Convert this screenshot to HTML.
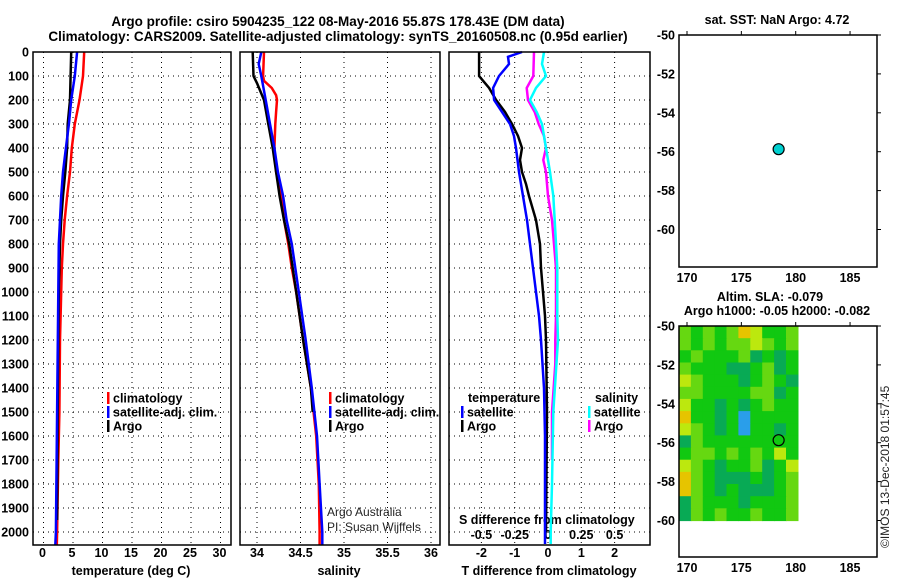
<!DOCTYPE html>
<html><head><meta charset="utf-8">
<style>
html,body{margin:0;padding:0;background:#fff;}
svg{display:block;font-family:"Liberation Sans",Arial,sans-serif;}
.b{font-weight:bold;font-size:12.5px;fill:#000;}
.t{font-weight:bold;font-size:13.5px;fill:#000;}
.n{font-size:12px;fill:#222;}
</style></head>
<body>
<svg id="c" width="900" height="580" viewBox="0 0 900 580" xmlns="http://www.w3.org/2000/svg">
<text class="t" x="338" y="26" text-anchor="middle">Argo profile: csiro 5904235_122 08-May-2016 55.87S 178.43E (DM data)</text>
<text class="t" x="338" y="41" text-anchor="middle">Climatology: CARS2009. Satellite-adjusted climatology: synTS_20160508.nc (0.95d earlier)</text>
<text class="b" x="131" y="575" text-anchor="middle">temperature (deg C)</text>
<text class="b" x="339" y="575" text-anchor="middle">salinity</text>
<text class="b" x="549" y="575" text-anchor="middle">T difference from climatology</text>
<text class="b" x="459" y="524">S difference from climatology</text>
<text class="n" x="327" y="516">Argo Australia</text>
<text class="n" x="327" y="531">PI: Susan Wijffels</text>
<text class="b" x="777" y="24" text-anchor="middle">sat. SST: NaN Argo: 4.72</text>
<text class="b" x="770" y="301" text-anchor="middle">Altim. SLA: -0.079</text>
<text class="b" x="777" y="315" text-anchor="middle">Argo h1000: -0.05 h2000: -0.082</text>
<text class="n" x="0" y="0" transform="translate(889,548) rotate(-90)">©IMOS 13-Dec-2018 01:57:45</text>
</svg>
<script>
// ---- data ----
const depthTicks=[0,100,200,300,400,500,600,700,800,900,1000,1100,1200,1300,1400,1500,1600,1700,1800,1900,2000];
const tempTicks=[0,5,10,15,20,25,30];
const salTicks=[34,34.5,35,35.5,36];
const salTickLabels=["34","34.5","35","35.5","36"];
const tdTicks=[-2,-1,0,1,2];
const sdTicks=[-0.5,-0.25,0,0.25,0.5];
const sdTickLabels=["-0.5","-0.25","0","0.25","0.5"];

const tClimP=[0,100,200,300,400,500,600,700,800,900,1000,1200,1500,1700,2000,2055];
const tClim=[6.9,6.7,6.1,5.3,4.8,4.5,4.0,3.6,3.3,3.1,3.0,2.8,2.7,2.5,2.3,2.25];
const tSatP=[0,100,200,300,400,500,600,700,800,1000,1500,2000,2055];
const tSat=[5.7,5.3,4.7,4.3,3.8,3.3,3.0,2.8,2.6,2.5,2.3,2.1,2.0];
const tArgoP=[0,100,200,300,400,500,600,700,800,1000,1500,1950];
const tArgo=[4.7,4.6,4.5,4.1,4.0,3.7,3.3,3.0,2.8,2.6,2.4,2.3];

const sClimP=[0,100,120,150,180,200,250,300,400,500,600,700,800,900,1000,1200,1400,1600,1800,2000,2055];
const sClim=[34.08,34.07,34.08,34.17,34.22,34.23,34.22,34.21,34.20,34.22,34.28,34.31,34.36,34.40,34.45,34.53,34.62,34.68,34.71,34.72,34.72];
const sSatP=[0,50,100,200,300,400,500,600,700,800,1000,1200,1400,1600,1800,2000,2055];
const sSat=[34.05,34.02,34.05,34.10,34.15,34.20,34.24,34.30,34.34,34.40,34.48,34.56,34.63,34.69,34.72,34.75,34.75];
const sArgoP=[0,100,130,200,300,400,500,600,700,800,1000,1200,1400,1500];
const sArgo=[33.95,33.96,34.0,34.08,34.13,34.18,34.22,34.26,34.31,34.37,34.45,34.53,34.62,34.64];

const dTArgoP=[0,100,150,200,250,300,350,400,450,500,550,600,700,800,900,1000,1100,1200,1500,2000];
const dTArgo=[-2.07,-2.07,-1.77,-1.56,-1.29,-1.08,-0.9,-0.78,-0.84,-0.78,-0.66,-0.57,-0.36,-0.24,-0.21,-0.15,-0.09,-0.06,-0.03,-0.06];
const dTSatP=[0,20,50,100,150,200,250,300,350,400,500,600,700,800,900,1000,1100,1200,1400,1600,2000,2050];
const dTSat=[-0.78,-1.2,-1.17,-1.47,-1.65,-1.62,-1.38,-1.14,-1.02,-0.96,-0.87,-0.75,-0.63,-0.54,-0.45,-0.36,-0.27,-0.21,-0.12,-0.09,-0.09,-0.09];
const dSSatP=[0,50,100,150,200,250,300,400,500,600,700,800,900,1000,1100,1200,1500,1800,2000,2050];
const dSSat=[-0.03,-0.045,-0.015,-0.09,-0.135,-0.085,-0.045,-0.015,0.015,0.04,0.05,0.06,0.07,0.07,0.07,0.075,0.04,0.03,0.02,0.02];
const dSArgoP=[0,100,150,200,250,300,350,400,450,500,600,700,800,900,1000,1100,1200,1300,1500,1700];
const dSArgo=[-0.105,-0.11,-0.16,-0.15,-0.1,-0.07,-0.03,-0.015,-0.035,-0.015,0.0,0.03,0.045,0.06,0.06,0.06,0.055,0.055,0.03,0.03];

const mapXTicks=[170,175,180,185];
const mapYTicks=[-50,-52,-54,-56,-58,-60];
const argoLon=[178.43];
const argoLat=[-55.87];
const slaRows=["lglgloyggl","lglgllylgl","glgggltgtg","lgggttgltg","ylgggtglgt","llgggglltg","yggtgtglgg","oggtgbgggg","ylgtgbggtg","tlgggggggg","gllglglgyg","ylgtggltgy","olgtttgtgl","olgtgtttgl","tlgggtgggl","tlglgglggl"];

// ---- drawing ----
const svg=document.getElementById('c');
const NS='http://www.w3.org/2000/svg';
function el(tag,attrs,parent){const e=document.createElementNS(NS,tag);for(const k in attrs)e.setAttribute(k,attrs[k]);(parent||svg).appendChild(e);return e;}
const yD=p=>52+p*0.24;
const BOT=545;

function panel(x0,x1,name){
  const g=el('g',{});
  
  
  return g;
}
function hgrid(g,x0,x1){
  depthTicks.forEach(p=>{ if(p>0){const l=el('line',{x1:x0,x2:x1,y1:yD(p),y2:yD(p),stroke:'#000','stroke-width':1,'stroke-dasharray':'1,4'},g);
  
  }});
}
function vgrid(g,xs){
  xs.forEach(x=>{const l=el('line',{x1:x,x2:x,y1:52,y2:BOT,stroke:'#000','stroke-width':1,'stroke-dasharray':'1,4'},g);
  
  });
}
function frame(g,x0,x1,y0,y1){const r=el('rect',{x:x0,y:y0,width:x1-x0,height:y1-y0,fill:'none',stroke:'#000','stroke-width':1.5},g);
  
  }
function line(g,ps,vs,fx,color,name){
  const pts=ps.map((p,i)=>fx(vs[i]).toFixed(1)+','+yD(p).toFixed(1)).join(' ');
  const l=el('polyline',{points:pts,fill:'none',stroke:color,'stroke-width':2.5,'stroke-linejoin':'miter'},g);
  
  
}
function txt(g,x,y,s,cls,anchor,name){const t=el('text',{x:x,y:y,class:cls,'text-anchor':anchor||'start'},g);t.textContent=s;
  
  
  return t;}
function legend(g,x,y,color,label,name){
  const r=el('rect',{x:x,y:y-6,width:2.5,height:12,fill:color},g);
  
  
  txt(g,x+6,y+4.5,label,'b','start',name);
}

// Panel 1: temperature
const xT=v=>43.5+v*5.9;
const p1=panel(33,231,'temperature-panel');
hgrid(p1,33,231); vgrid(p1,tempTicks.map(xT));
depthTicks.forEach(p=>txt(p1,29,yD(p)+4.5,String(p),'b','end','depth-tick-label'));
tempTicks.forEach(v=>txt(p1,xT(v)-1,557,String(v),'b','middle','temperature-tick-label'));
line(p1,tClimP,tClim,xT,'#ff0000','temperature-climatology-line');
line(p1,tArgoP,tArgo,xT,'#000000','temperature-argo-line');
line(p1,tSatP,tSat,xT,'#0000ff','temperature-satellite-line');
frame(p1,33,231,52,BOT);
legend(p1,107,398,'#ff0000','climatology','legend-climatology');
legend(p1,107,412,'#0000ff','satellite-adj. clim.','legend-satellite-adj');
legend(p1,107,426,'#000000','Argo','legend-argo');

// Panel 2: salinity
const xS=v=>257+(v-34)*87;
const p2=panel(240,440,'salinity-panel');
hgrid(p2,240,440); vgrid(p2,salTicks.map(xS));
salTicks.forEach((v,i)=>txt(p2,xS(v),557,salTickLabels[i],'b','middle','salinity-tick-label'));
line(p2,sClimP,sClim,xS,'#ff0000','salinity-climatology-line');
line(p2,sArgoP,sArgo,xS,'#000000','salinity-argo-line');
line(p2,sSatP,sSat,xS,'#0000ff','salinity-satellite-line');
frame(p2,240,440,52,BOT);
legend(p2,329,398,'#ff0000','climatology','legend-sal-climatology');
legend(p2,329,412,'#0000ff','satellite-adj. clim.','legend-sal-satellite-adj');
legend(p2,329,426,'#000000','Argo','legend-sal-argo');

// Panel 3: differences
const xDT=v=>548+v*33.3;
const xDS=v=>548+v*133.2;
const p3=panel(449,650,'difference-panel');
hgrid(p3,449,650); vgrid(p3,tdTicks.map(xDT));
tdTicks.forEach(v=>txt(p3,xDT(v),557,String(v),'b','middle','t-diff-tick-label'));
sdTicks.forEach((v,i)=>txt(p3,xDS(v),539,sdTickLabels[i],'b','middle','s-diff-tick-label'));
line(p3,dTArgoP,dTArgo,xDT,'#000000','t-diff-argo-line');
line(p3,dTSatP,dTSat,xDT,'#0000ff','t-diff-satellite-line');
line(p3,dSArgoP,dSArgo,xDS,'#ff00ff','s-diff-argo-line');
line(p3,dSSatP,dSSat,xDS,'#00ffff','s-diff-satellite-line');
frame(p3,449,650,52,BOT);
txt(p3,468,402,'temperature','b','start','legend-temperature-heading');
legend(p3,461,412,'#0000ff','satellite','legend-t-satellite');
legend(p3,461,426,'#000000','Argo','legend-t-argo');
txt(p3,595,402,'salinity','b','start','legend-salinity-heading');
legend(p3,588,412,'#00ffff','satellite','legend-s-satellite');
legend(p3,588,426,'#ff00ff','Argo','legend-s-argo');

// Maps
function map(y0,y1,latTop,name,heat){
  const g=panel(679,877,name);
  const mx=v=>687+(v-170)*10.87;
  const my=v=>y0+(latTop-v)*19.45;
  if(heat){
    const cols={g:'#11c811',G:'#0fb83a',t:'#08aa55',l:'#66d811',y:'#bce80e',o:'#e6c400',b:'#2a9eea'};
    const hg=el('g',{},g);
    
    
    const x0=679,x1=mx(180.2),yy0=my(-50),yy1=my(-60);
    const cw=(x1-x0)/10,ch=(yy1-yy0)/slaRows.length;
    slaRows.forEach((row,r)=>{[...row].forEach((c,k)=>{
      const rc=el('rect',{x:(x0+k*cw).toFixed(1),y:(yy0+r*ch).toFixed(1),width:(cw+0.6).toFixed(1),height:(ch+0.6).toFixed(1),fill:cols[c]},hg);
      
      
    });});
  }
  const r=el('rect',{x:679,y:y0,width:198,height:y1-y0,fill:'none',stroke:'#000','stroke-width':1.5},g);
  
  
  mapXTicks.forEach(v=>{txt(g,mx(v),y1+15,String(v),'b','middle','longitude-tick-label');
    el('line',{x1:mx(v),x2:mx(v),y1:y0,y2:y0-4,stroke:'#000'},g);});
  mapYTicks.forEach(v=>{txt(g,675,my(v)+4.5,String(v),'b','end','latitude-tick-label');
    el('line',{x1:877,x2:881,y1:my(v),y2:my(v),stroke:'#000'},g);});
  const c=el('circle',{cx:mx(argoLon[0]),cy:my(argoLat[0]),r:5.5,fill:heat?'none':'#00d0d0',stroke:'#000','stroke-width':1.2},g);
  
  
}
map(35,267,-50,'sst-map',false);
map(326,557,-50,'sla-map',true);
</script>
</body></html>
